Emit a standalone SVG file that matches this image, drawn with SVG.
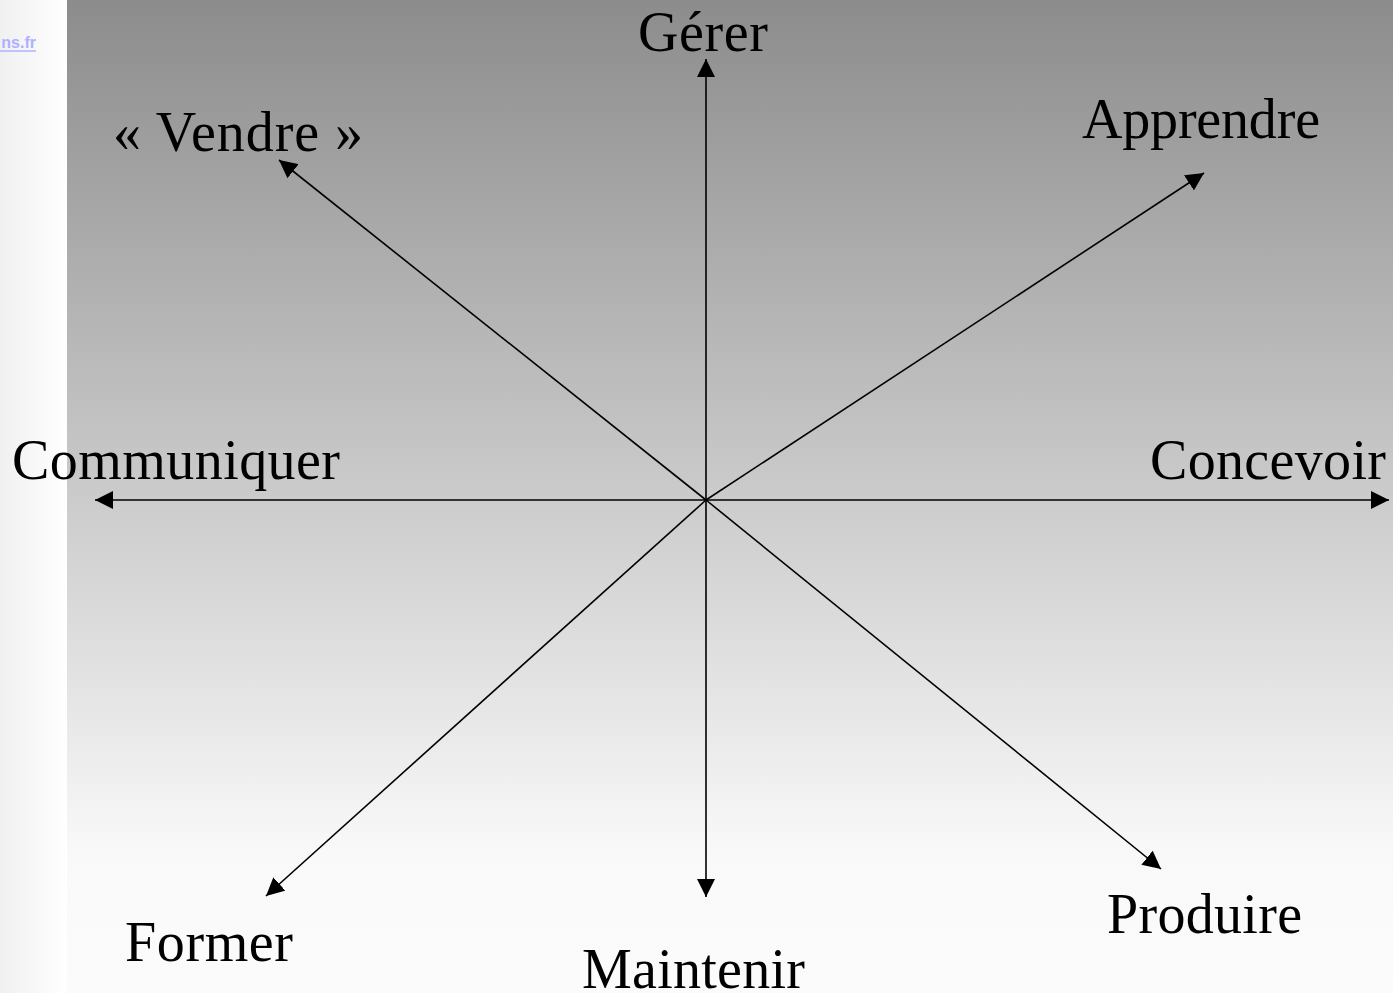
<svg xmlns="http://www.w3.org/2000/svg" width="1393" height="993" viewBox="0 0 1393 993">
  <defs>
    <linearGradient id="bg" x1="0" y1="0" x2="0" y2="1">
      <stop offset="0" stop-color="#8c8c8c"/>
      <stop offset="0.86" stop-color="#f9f9f9"/>
      <stop offset="1" stop-color="#fbfbfb"/>
    </linearGradient>
    <linearGradient id="side" x1="0" y1="0" x2="1" y2="0">
      <stop offset="0" stop-color="#f0f0f0"/>
      <stop offset="1" stop-color="#ffffff"/>
    </linearGradient>
    <marker id="arrow" markerUnits="userSpaceOnUse" markerWidth="18" markerHeight="18" refX="18" refY="9" orient="auto" viewBox="0 0 18 18">
      <path d="M0,0 L18,9 L0,18 z" fill="#000"/>
    </marker>
    <style>
      .lbl { font-family: "Liberation Serif", "Times New Roman", serif; font-size: 56px; fill: #000; }
      .conn line { stroke: #000; stroke-width: 1.6; marker-end: url(#arrow); }
      .link { font-family: "Liberation Sans", Arial, sans-serif; font-size: 16px; font-weight: bold; fill: #b0b0ff; }
    </style>
  </defs>

  <rect x="0" y="0" width="67" height="993" fill="url(#side)"/>
  <rect x="67" y="0" width="1326" height="993" fill="url(#bg)"/>
  <text class="link" x="36" y="48" text-anchor="end">ns.fr</text>
  <line x1="0" y1="51" x2="36" y2="51" stroke="#b0b0ff" stroke-width="1.5"/>

  <g id="connectors" class="conn">
    <line x1="706" y1="500" x2="706" y2="59"/>
    <line x1="706" y1="500" x2="706" y2="897"/>
    <line x1="706" y1="500" x2="95" y2="500"/>
    <line x1="706" y1="500" x2="1389" y2="500"/>
    <line x1="706" y1="500" x2="1204" y2="173"/>
    <line x1="706" y1="500" x2="279" y2="160"/>
    <line x1="706" y1="500" x2="266" y2="896"/>
    <line x1="706" y1="500" x2="1161" y2="869"/>
  </g>

  <g id="gerer"><text class="lbl" x="638" y="51" textLength="130">Gérer</text></g>
  <g id="vendre"><text class="lbl" x="113" y="151" textLength="250">« Vendre »</text></g>
  <g id="apprendre"><text class="lbl" x="1082" y="138" textLength="238">Apprendre</text></g>
  <g id="communiquer"><text class="lbl" x="12" y="479" textLength="328">Communiquer</text></g>
  <g id="concevoir"><text class="lbl" x="1150" y="479" textLength="236">Concevoir</text></g>
  <g id="former"><text class="lbl" x="125" y="961" textLength="168">Former</text></g>
  <g id="maintenir"><text class="lbl" x="582" y="988" textLength="223">Maintenir</text></g>
  <g id="produire"><text class="lbl" x="1107" y="933" textLength="195">Produire</text></g>
</svg>
